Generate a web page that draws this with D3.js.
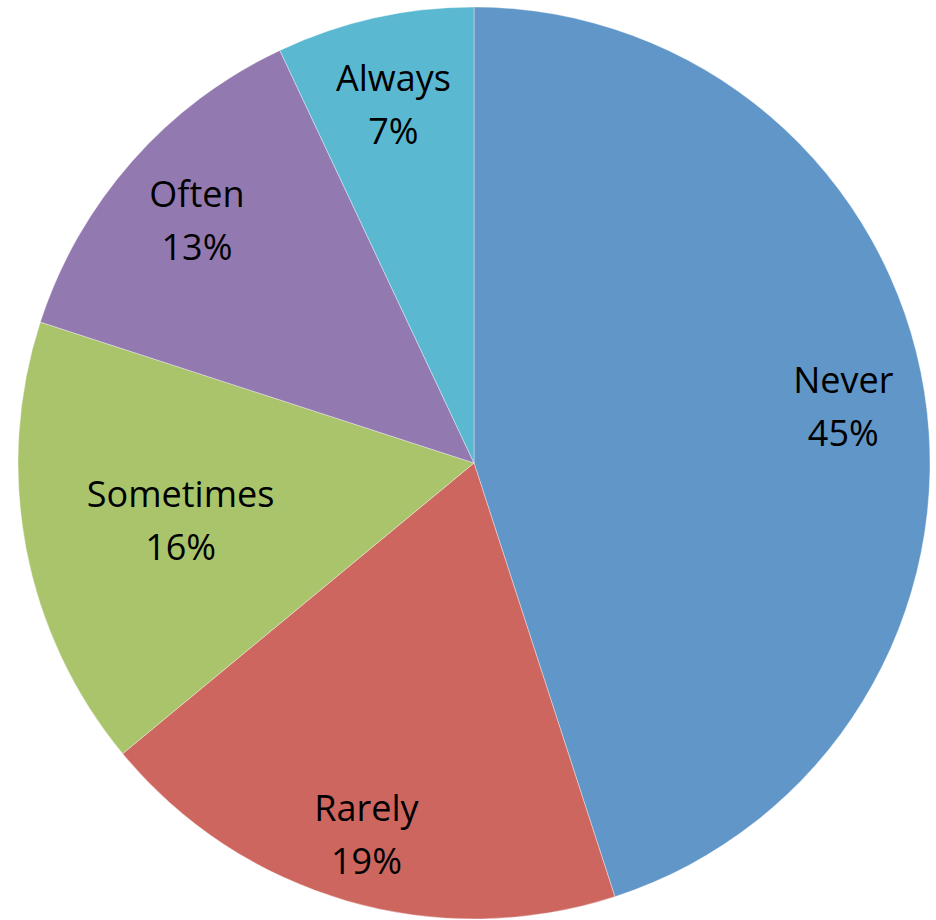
<!DOCTYPE html>
<html>
<head>
<meta charset="utf-8">
<script src="https://cdn.jsdelivr.net/npm/d3@7"></script>
<style>
  html, body { margin: 0; padding: 0; background: #ffffff; }
  svg { display: block; }
</style>
</head>
<body>
<svg id="chart" width="936" height="920"></svg>
<script>
// ---- data ----
const categories = ["Never", "Rarely", "Sometimes", "Often", "Always"];
const values = [45, 19, 16, 13, 7];
const colors = ["#6096C8", "#CC665F", "#AAC46C", "#927AB0", "#5BB8D1"];
// label distance from centre as fraction of radius (layout, Excel best-fit)
const labelRadiusFrac = [0.82, 0.845, 0.655, 0.81, 0.81];

const width = 936, height = 920;
const cx = 474, cy = 463, radius = 456;

const svg = d3.select("#chart");
const g = svg.append("g").attr("transform", `translate(${cx},${cy})`);

const data = categories.map((c, i) => ({ name: c, value: values[i], color: colors[i], lf: labelRadiusFrac[i] }));
const total = d3.sum(values);

const pie = d3.pie().value(d => d.value).sort(null);
const arcs = pie(data);
const arc = d3.arc().innerRadius(0).outerRadius(radius);

g.selectAll("path.slice")
  .data(arcs)
  .enter().append("path")
  .attr("class", "slice")
  .attr("d", arc)
  .attr("fill", d => d.data.color)
  .attr("stroke", "#ffffff")
  .attr("stroke-width", 0.6)
  .attr("stroke-opacity", 0.6);

const labels = g.selectAll("text.lbl")
  .data(arcs)
  .enter().append("text")
  .attr("class", "lbl")
  .attr("text-anchor", "middle")
  .attr("font-family", "'Open Sans', sans-serif")
  .attr("font-size", 36)
  .attr("fill", "#000000")
  .attr("transform", d => {
    const a = (d.startAngle + d.endAngle) / 2;
    const r = radius * d.data.lf;
    return `translate(${r * Math.sin(a)},${-r * Math.cos(a)})`;
  });

labels.append("tspan").attr("x", 0).attr("y", -12).text(d => d.data.name);
labels.append("tspan").attr("x", 0).attr("y", 41)
  .text(d => Math.round(d.data.value / total * 100) + "%");
</script>
</body>
</html>
